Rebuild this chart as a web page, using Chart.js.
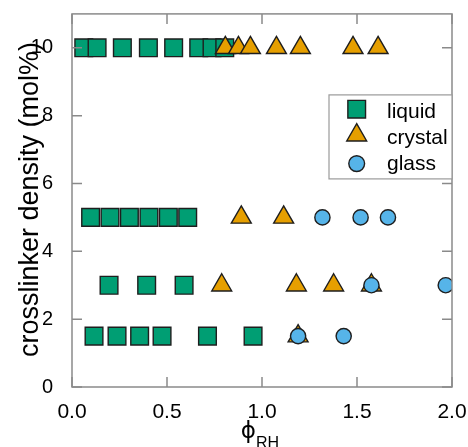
<!DOCTYPE html>
<html><head><meta charset="utf-8">
<script src="https://cdn.jsdelivr.net/npm/chart.js@4.4.1/dist/chart.umd.min.js"></script>
<style>html,body{margin:0;padding:0;background:#fff}#wrap{width:468px;height:447px;position:relative}</style>
</head><body><div id="wrap"><canvas id="c" width="468" height="447"></canvas></div>
<script>
// ---- data ----
const seriesNames = ['liquid', 'crystal', 'glass'];
const liquidX = [0.062, 0.132, 0.265, 0.402, 0.535, 0.667, 0.737, 0.804,
                 0.098, 0.200, 0.302, 0.405, 0.507, 0.609,
                 0.195, 0.393, 0.590,
                 0.116, 0.237, 0.356, 0.474, 0.713, 0.953];
const liquidY = [10, 10, 10, 10, 10, 10, 10, 10,
                 5, 5, 5, 5, 5, 5,
                 3, 3, 3,
                 1.5, 1.5, 1.5, 1.5, 1.5, 1.5];
const crystalX = [0.807, 0.876, 0.939, 1.076, 1.202, 1.479, 1.611,
                  0.891, 1.114,
                  0.788, 1.181, 1.377, 1.576,
                  1.190];
const crystalY = [10, 10, 10, 10, 10, 10, 10,
                  5, 5,
                  3, 3, 3, 3,
                  1.5];
const glassX = [1.318, 1.519, 1.663,
                1.576, 1.967,
                1.190, 1.430];
const glassY = [5, 5, 5,
                3, 3,
                1.5, 1.5];
const xTickValues = [0, 0.5, 1.0, 1.5, 2.0];
const xTickLabels = ['0.0', '0.5', '1.0', '1.5', '2.0'];
const yTickValues = [0, 2, 4, 6, 8, 10];
const yTickLabels = ['0', '2', '4', '6', '8', '10'];
const xTitleMain = '\u03D5';
const xTitleSub = 'RH';
const yTitle = 'crosslinker density (mol%)';

// ---- styles ----
const FONT = '"Liberation Sans", Arial, sans-serif';
const colors = ['#009E73', '#E69F00', '#56B4E9'];
const shapes = ['rect', 'triangle', 'circle'];
const radii = [12.5, 11.5, 7.6];
const edge = '#1e1e1e';
const axisGray = '#8a8a8a';

const toPts = (xs, ys) => xs.map((x, i) => ({x: x, y: ys[i]}));
const seriesData = [toPts(liquidX, liquidY), toPts(crystalX, crystalY), toPts(glassX, glassY)];

const datasets = seriesNames.map((n, i) => ({
  label: n,
  data: seriesData[i],
  pointStyle: shapes[i],
  pointRadius: radii[i],
  pointHoverRadius: radii[i],
  backgroundColor: colors[i],
  borderColor: edge,
  pointBorderWidth: 1.4,
  borderWidth: 1.4,
  showLine: false,
  order: 3 - i,
  clip: 0
}));

function drawMarker(ctx, shape, x, y, r, fill) {
  ctx.beginPath();
  if (shape === 'rect') {
    const s = Math.SQRT1_2 * r;
    ctx.rect(x - s, y - s, 2 * s, 2 * s);
  } else if (shape === 'triangle') {
    let rad = 0;
    ctx.moveTo(x + Math.sin(rad) * r, y - Math.cos(rad) * r);
    rad += 2 * Math.PI / 3;
    ctx.lineTo(x + Math.sin(rad) * r, y - Math.cos(rad) * r);
    rad += 2 * Math.PI / 3;
    ctx.lineTo(x + Math.sin(rad) * r, y - Math.cos(rad) * r);
    ctx.closePath();
  } else {
    ctx.arc(x, y, r, 0, Math.PI * 2);
  }
  ctx.fillStyle = fill;
  ctx.fill();
  ctx.lineWidth = 1.4;
  ctx.strokeStyle = edge;
  ctx.stroke();
}

const zeroPad = s => { s.paddingTop = 0; s.paddingBottom = 0; s.paddingLeft = 0; s.paddingRight = 0; };

const framePlugin = {
  id: 'frame',
  afterDatasetsDraw(chart) {
    const {ctx, chartArea: a, scales: {x, y}} = chart;
    ctx.save();
    ctx.strokeStyle = axisGray;
    ctx.lineWidth = 1.5;
    ctx.strokeRect(a.left, a.top, a.right - a.left, a.bottom - a.top);
    const tl = 10;
    ctx.beginPath();
    xTickValues.forEach(v => {
      const px = x.getPixelForValue(v);
      ctx.moveTo(px, a.bottom); ctx.lineTo(px, a.bottom - tl);
      ctx.moveTo(px, a.top); ctx.lineTo(px, a.top + tl);
    });
    yTickValues.forEach(v => {
      const py = y.getPixelForValue(v);
      ctx.moveTo(a.left, py); ctx.lineTo(a.left + tl, py);
      ctx.moveTo(a.right, py); ctx.lineTo(a.right - tl, py);
    });
    ctx.stroke();
    ctx.restore();
  },
  afterDraw(chart) {
    const {ctx, chartArea: a} = chart;
    ctx.save();
    // legend
    const bx = a.right - 123, by = a.top + 81, bw = 123, bh = 84;
    ctx.fillStyle = '#fff';
    ctx.fillRect(bx, by, bw, bh);
    ctx.strokeStyle = '#9a9a9a';
    ctx.lineWidth = 1.2;
    ctx.strokeRect(bx, by, bw, bh);
    const mx = bx + 27.7;
    const my = [by + 14.3, by + 40.3, by + 68.7];
    const ty = [by + 22.8, by + 49.2, by + 75.5];
    seriesNames.forEach((n, i) => {
      drawMarker(ctx, shapes[i], mx, my[i], radii[i] + (i === 2 ? 0.3 : 0), colors[i]);
      ctx.fillStyle = '#000';
      ctx.font = '21px ' + FONT;
      ctx.textAlign = 'left';
      ctx.textBaseline = 'alphabetic';
      ctx.fillText(n, bx + 58, ty[i]);
    });
    // y title
    ctx.save();
    ctx.translate(38, (a.top + a.bottom) / 2 - 1);
    ctx.rotate(-Math.PI / 2);
    ctx.fillStyle = '#000';
    ctx.font = '27px ' + FONT;
    ctx.textAlign = 'center';
    ctx.textBaseline = 'alphabetic';
    ctx.fillText(yTitle, 0, 0);
    ctx.restore();
    // x title
    const cx = (a.left + a.right) / 2;
    ctx.fillStyle = '#000';
    ctx.textBaseline = 'alphabetic';
    ctx.textAlign = 'left';
    ctx.font = '23px "DejaVu Sans", ' + FONT;
    const w1 = ctx.measureText(xTitleMain).width;
    ctx.font = '16px ' + FONT;
    const w2 = ctx.measureText(xTitleSub).width;
    const start = cx - (w1 + w2) / 2 - 2;
    ctx.font = '23px "DejaVu Sans", ' + FONT;
    ctx.fillText(xTitleMain, start, 438);
    ctx.font = '16px ' + FONT;
    ctx.fillText(xTitleSub, start + w1, 448);
    ctx.restore();
  }
};

new Chart(document.getElementById('c'), {
  type: 'scatter',
  data: {datasets: datasets},
  options: {
    responsive: false,
    devicePixelRatio: 1,
    animation: false,
    events: [],
    layout: {padding: {top: 7, right: 16, left: 0, bottom: 0}},
    plugins: {legend: {display: false}, tooltip: {enabled: false}},
    scales: {
      x: {
        type: 'linear', min: 0, max: 2,
        afterBuildTicks: s => { s.ticks = xTickValues.map(v => ({value: v})); },
        afterFit: s => { s.height = 60; zeroPad(s); },
        grid: {display: false},
        border: {display: false},
        ticks: {
          callback: v => xTickLabels[xTickValues.indexOf(v)],
          font: {size: 21, family: FONT}, color: '#000',
          padding: 5, maxRotation: 0, autoSkip: false
        }
      },
      y: {
        type: 'linear', min: 0, max: 11,
        afterBuildTicks: s => { s.ticks = yTickValues.map(v => ({value: v})); },
        afterFit: s => { s.width = 72; zeroPad(s); },
        grid: {display: false},
        border: {display: false},
        ticks: {
          callback: v => yTickLabels[yTickValues.indexOf(v)],
          font: {size: 20, family: FONT}, color: '#000',
          padding: 11, autoSkip: false
        }
      }
    }
  },
  plugins: [framePlugin]
});
</script></body></html>
